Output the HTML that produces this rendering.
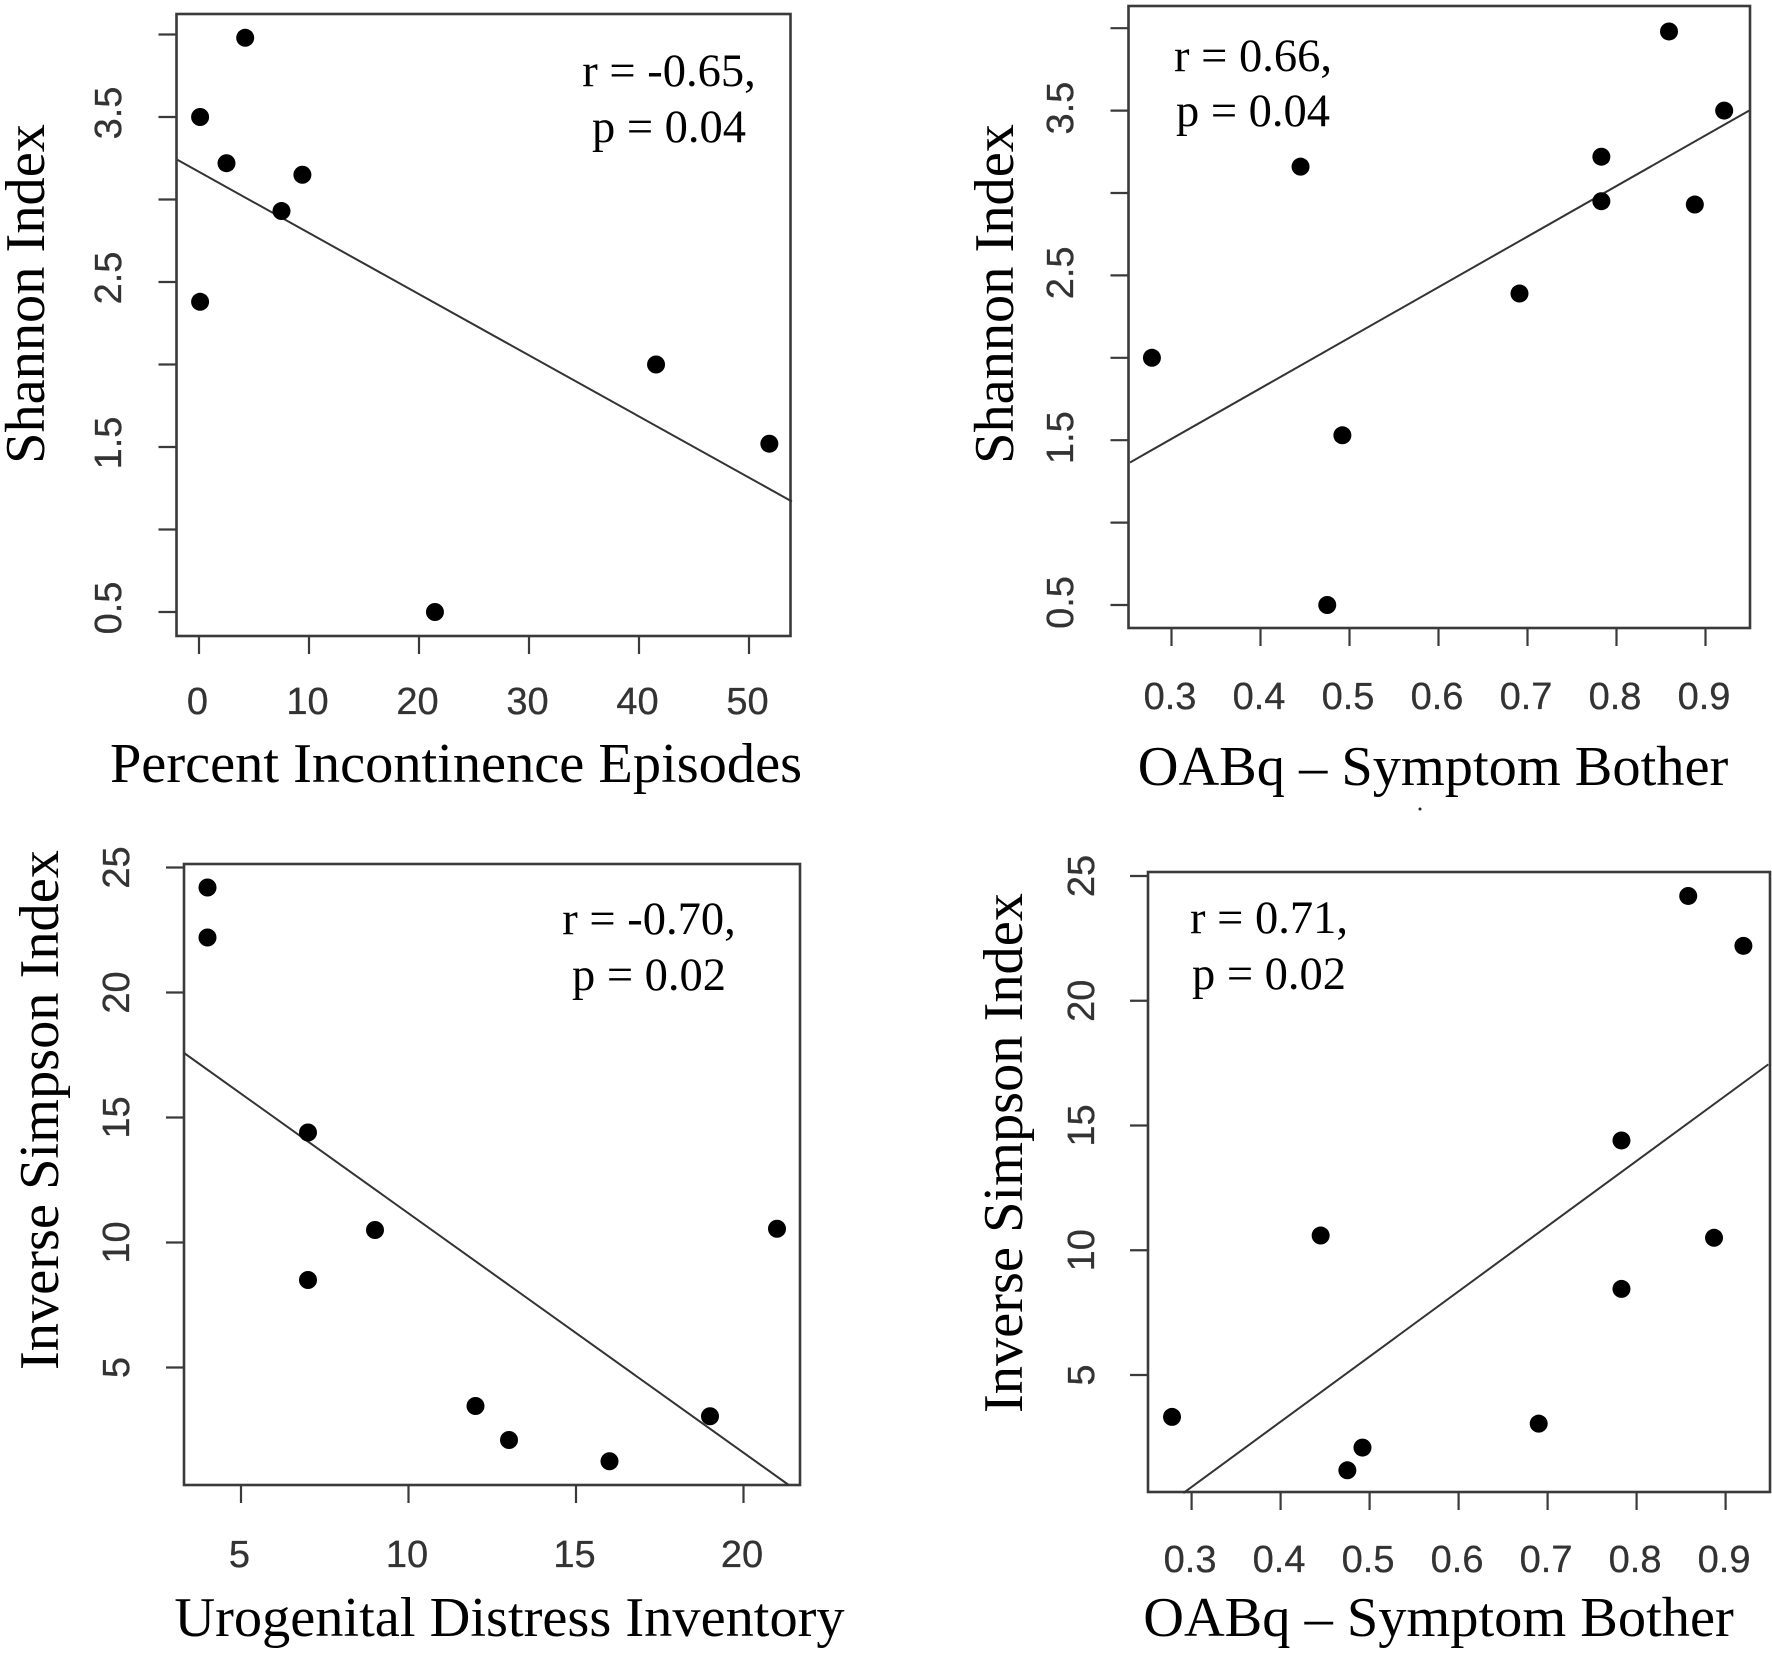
<!DOCTYPE html>
<html lang="en">
<head>
<meta charset="utf-8">
<title>Diversity index correlations</title>
<style>
html,body{margin:0;padding:0;background:#fff;}
svg{display:block;}
.serif{font-family:"Liberation Serif",serif;fill:#000;}
.sans{font-family:"Liberation Sans",sans-serif;fill:#333;stroke:#333;stroke-width:0.3;font-size:38px;text-anchor:middle;}
.axis-title{font-size:56.4px;text-anchor:middle;}
.stat{font-size:46.5px;text-anchor:middle;}
</style>
</head>
<body>
<svg id="figure" xmlns="http://www.w3.org/2000/svg" width="1772" height="1653" viewBox="0 0 1772 1653">
  <rect x="0" y="0" width="1772" height="1653" fill="#fff"/>

  <g id="p1">
    <text class="serif axis-title" x="456" y="782">Percent Incontinence Episodes</text>
    <text class="serif axis-title" transform="translate(44,294) rotate(-90)">Shannon Index</text>
    <text class="serif stat" x="669" y="86">r = -0.65,</text>
    <text class="serif stat" x="669" y="142">p = 0.04</text>
  </g>
  <g id="p2">
    <text class="serif axis-title" x="1433" y="785">OABq – Symptom Bother</text>
    <text class="serif axis-title" transform="translate(1013,294) rotate(-90)">Shannon Index</text>
    <text class="serif stat" x="1253" y="71">r = 0.66,</text>
    <text class="serif stat" x="1253" y="126">p = 0.04</text>
    <circle cx="1420" cy="809" r="1.5" fill="#223"/>
  </g>
  <g id="p3">
    <text class="serif axis-title" x="509.5" y="1636">Urogenital Distress Inventory</text>
    <text class="serif axis-title" transform="translate(58,1110) rotate(-90)">Inverse Simpson Index</text>
    <text class="serif stat" x="649" y="934">r = -0.70,</text>
    <text class="serif stat" x="649" y="990">p = 0.02</text>
  </g>
  <g id="p4">
    <text class="serif axis-title" x="1438.5" y="1636">OABq – Symptom Bother</text>
    <text class="serif axis-title" transform="translate(1022,1153) rotate(-90)">Inverse Simpson Index</text>
    <text class="serif stat" x="1269" y="933">r = 0.71,</text>
    <text class="serif stat" x="1269" y="989">p = 0.02</text>
  </g>
</svg>
<script>
// ---- data ----
const p1X = [4.2, 0.1, 2.5, 9.4, 7.5, 0.1, 41.55, 51.85, 21.45];
const p1Y = [3.98, 3.5, 3.22, 3.15, 2.93, 2.38, 2.0, 1.52, 0.5];
const p1FitX = [-1.95, 53.9];
const p1FitY = [3.24, 1.17];
const p1XTicks = [0, 10, 20, 30, 40, 50];
const p1YTicks = [0.5, 1, 1.5, 2, 2.5, 3, 3.5, 4];
const p1XLabels = ["0", "10", "20", "30", "40", "50"];
const p1YLabels = ["0.5", "", "1.5", "", "2.5", "", "3.5", ""];

const p2X = [0.278, 0.445, 0.492, 0.475, 0.691, 0.783, 0.783, 0.859, 0.888, 0.921];
const p2Y = [2.0, 3.16, 1.53, 0.5, 2.39, 3.22, 2.95, 3.98, 2.93, 3.5];
const p2FitX = [0.2534, 0.949];
const p2FitY = [1.365, 3.5];
const p2XTicks = [0.3, 0.4, 0.5, 0.6, 0.7, 0.8, 0.9];
const p2YTicks = [0.5, 1, 1.5, 2, 2.5, 3, 3.5, 4];
const p2XLabels = ["0.3", "0.4", "0.5", "0.6", "0.7", "0.8", "0.9"];
const p2YLabels = ["0.5", "", "1.5", "", "2.5", "", "3.5", ""];

const p3X = [4, 4, 7, 7, 9, 21, 12, 13, 16, 19];
const p3Y = [24.2, 22.2, 14.4, 8.5, 10.5, 10.55, 3.46, 2.1, 1.25, 3.05];
const p3FitX = [3.28, 21.35];
const p3FitY = [17.6, 0.3];
const p3XTicks = [5, 10, 15, 20];
const p3YTicks = [5, 10, 15, 20, 25];
const p3XLabels = ["5", "10", "15", "20"];
const p3YLabels = ["5", "10", "15", "20", "25"];

const p4X = [0.278, 0.445, 0.492, 0.475, 0.69, 0.783, 0.783, 0.858, 0.887, 0.92];
const p4Y = [3.32, 10.59, 2.09, 1.18, 3.05, 14.4, 8.45, 24.2, 10.5, 22.2];
const p4FitX = [0.2907, 0.948];
const p4FitY = [0.27, 17.45];
const p4XTicks = [0.3, 0.4, 0.5, 0.6, 0.7, 0.8, 0.9];
const p4YTicks = [5, 10, 15, 20, 25];
const p4XLabels = ["0.3", "0.4", "0.5", "0.6", "0.7", "0.8", "0.9"];
const p4YLabels = ["5", "10", "15", "20", "25"];

// ---- layout (plot frames and axis scales, in page pixels) ----
const panels = [
  {id:"p1", box:[176.5,14,790.5,636], x0:0, xp0:199, xk:11.0, y0:0.5, yp0:612, yk:-165,
   xs:p1X, ys:p1Y, fx:p1FitX, fy:p1FitY, xt:p1XTicks, yt:p1YTicks, xl:p1XLabels, yl:p1YLabels,
   xLabelY:714, yLabelX:121, yOff:-4},
  {id:"p2", box:[1128.5,6,1750,628], x0:0.3, xp0:1171.5, xk:890, y0:0.5, yp0:605, yk:-164.8,
   xs:p2X, ys:p2Y, fx:p2FitX, fy:p2FitY, xt:p2XTicks, yt:p2YTicks, xl:p2XLabels, yl:p2YLabels,
   xLabelY:709, yLabelX:1073, yOff:-2.5},
  {id:"p3", box:[184,864,800,1485], x0:5, xp0:241, xk:33.5, y0:5, yp0:1367.5, yk:-25,
   xs:p3X, ys:p3Y, fx:p3FitX, fy:p3FitY, xt:p3XTicks, yt:p3YTicks, xl:p3XLabels, yl:p3YLabels,
   xLabelY:1567, yLabelX:129, yOff:0},
  {id:"p4", box:[1148,872,1770,1492], x0:0.3, xp0:1191.6, xk:890, y0:5, yp0:1375, yk:-24.95,
   xs:p4X, ys:p4Y, fx:p4FitX, fy:p4FitY, xt:p4XTicks, yt:p4YTicks, xl:p4XLabels, yl:p4YLabels,
   xLabelY:1572, yLabelX:1094, yOff:0}
];

const NS = "http://www.w3.org/2000/svg";
const INK = "#3a3a3a";

function make(tag, attrs, parent) {
  const node = document.createElementNS(NS, tag);
  for (const k in attrs) node.setAttribute(k, attrs[k]);
  parent.appendChild(node);
  return node;
}

function drawPanel(p) {
  const g = document.getElementById(p.id);
  const sx = v => p.xp0 + (v - p.x0) * p.xk;
  const sy = v => p.yp0 + (v - p.y0) * p.yk;
  const [l, t, r, b] = p.box;

  const frame = make("rect", {x:l, y:t, width:r-l, height:b-t, fill:"none", stroke:INK, "stroke-width":2.6}, g);
  
  

  p.xt.forEach((v, i) => {
    const tick = make("line", {x1:sx(v), x2:sx(v), y1:b, y2:b+18, stroke:INK, "stroke-width":2.2}, g);
    
    
    const lab = make("text", {x:sx(v)-1.5, y:p.xLabelY, class:"sans"}, g);
    
    
    lab.textContent = p.xl[i];
  });

  p.yt.forEach((v, i) => {
    const tick = make("line", {x1:l-18, x2:l, y1:sy(v), y2:sy(v), stroke:INK, "stroke-width":2.2}, g);
    
    
    if (p.yl[i]) {
      const lab = make("text", {class:"sans", transform:"translate(" + p.yLabelX + "," + (sy(v)+p.yOff) + ") rotate(-90)"}, g);
      
      
      lab.textContent = p.yl[i];
    }
  });

  const fit = make("line", {x1:sx(p.fx[0]), y1:sy(p.fy[0]), x2:sx(p.fx[1]), y2:sy(p.fy[1]), stroke:"#333", "stroke-width":2}, g);
  
  

  p.xs.forEach((v, i) => {
    const pt = make("circle", {cx:sx(v), cy:sy(p.ys[i]), r:9, fill:"#000"}, g);
    
    
  });
}

panels.forEach(drawPanel);
</script>
</body>
</html>
